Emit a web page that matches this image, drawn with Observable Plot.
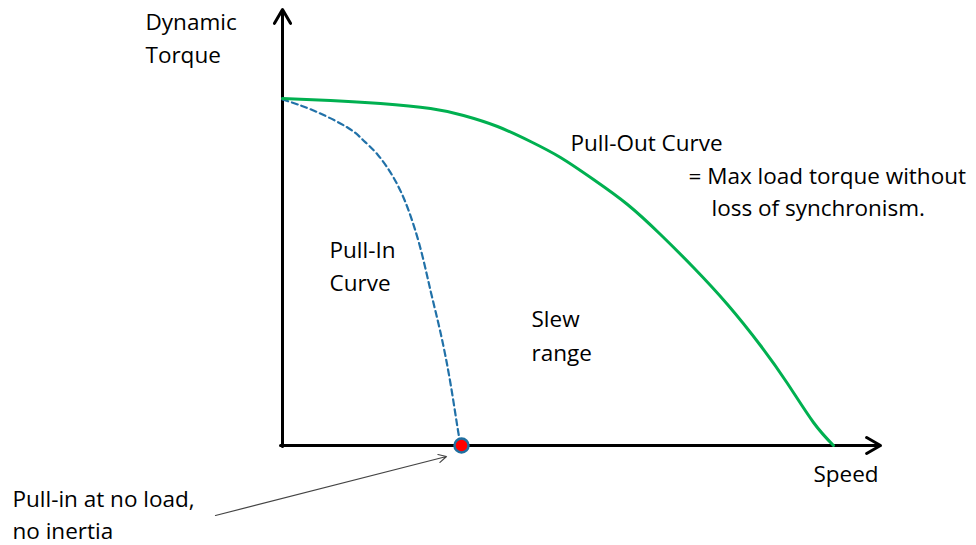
<!DOCTYPE html>
<html>
<head>
<meta charset="utf-8">
<script src="https://cdn.jsdelivr.net/npm/d3@7"></script>
<script src="https://cdn.jsdelivr.net/npm/@observablehq/plot@0.6"></script>
<style>
  html, body { margin: 0; padding: 0; background: #fff; }
  #chart svg { display: block; }
</style>
</head>
<body>
<div id="chart"></div>
<script>
// Pull-out curve (speed, torque) in arbitrary units
const pullOutSpeed  = [0, 48, 98, 148, 181, 215, 248, 278, 311, 345, 378, 411, 445, 478, 505, 531, 551];
const pullOutTorque = [347, 345, 342, 337, 330, 319, 304, 288, 266, 241, 211, 178, 141, 100, 62, 23, 0];

// Pull-in curve
const pullInSpeed  = [0, 31, 65, 80, 95, 111, 125, 138, 148, 158, 168, 176, 179];
const pullInTorque = [346, 335, 318, 306, 291, 268, 238, 197, 155, 113, 62, 12, 0];

// Pull-in at no load point
const noLoadPoint = [{speed: 179, torque: 0}];

// Text annotations (anchored in data units)
const annoText = ["Dynamic", "Torque", "Pull-Out Curve", "= Max load torque without", "loss of synchronism.",
                  "Pull-In", "Curve", "Slew", "range", "Speed", "Pull-in at no load,", "no inertia"];
const annoX = [-137, -137, 288, 406, 429, 47, 47, 249, 249, 531, -270, -270];
const annoY = [423, 390, 302, 269, 237, 195, 162, 126, 92, -29, -54, -86];

// Annotation arrow (from label to point)
const pointerArrow = [{x1: -67, y1: -70, x2: 164, y2: -11}];

const pullOut = pullOutSpeed.map((s, i) => ({speed: s, torque: pullOutTorque[i]}));
const pullIn = pullInSpeed.map((s, i) => ({speed: s, torque: pullInTorque[i]}));
const annotations = annoText.map((t, i) => ({text: t, x: annoX[i], y: annoY[i]}));

const font = "'Open Sans', Lato, sans-serif";

const chart = Plot.plot({
  width: 976,
  height: 545,
  marginLeft: 282,
  marginRight: 94,
  marginTop: 5,
  marginBottom: 100,
  style: {fontFamily: font, background: "#fff"},
  x: {domain: [0, 600], axis: null},
  y: {domain: [0, 440], axis: null},
  marks: [
    // axes with arrowheads
    Plot.arrow([{x1: -2, y1: 0, x2: 598, y2: 0}], {x1: "x1", y1: "y1", x2: "x2", y2: "y2", stroke: "#000", strokeWidth: 3, headLength: 8, headAngle: 60}),
    Plot.arrow([{x1: 0, y1: -1, x2: 0, y2: 436}], {x1: "x1", y1: "y1", x2: "x2", y2: "y2", stroke: "#000", strokeWidth: 3, headLength: 8, headAngle: 60}),
    Plot.line(pullIn, {x: "speed", y: "torque", curve: "natural", stroke: "#2171A8", strokeWidth: 2.2, strokeDasharray: "6,4"}),
    Plot.line(pullOut, {x: "speed", y: "torque", curve: "natural", stroke: "#00B050", strokeWidth: 3}),
    Plot.dot(noLoadPoint, {x: "speed", y: "torque", r: 7, fill: "#FF0000", stroke: "#1F6FA0", strokeWidth: 2.5}),
    Plot.arrow(pointerArrow, {x1: "x1", y1: "y1", x2: "x2", y2: "y2", stroke: "#444", strokeWidth: 1.2, headLength: 11, headAngle: 55}),
    Plot.text(annotations, {x: "x", y: "y", text: "text", textAnchor: "start", fontSize: 22.5, fill: "#000"})
  ]
});
document.getElementById("chart").appendChild(chart);
</script>
</body>
</html>
